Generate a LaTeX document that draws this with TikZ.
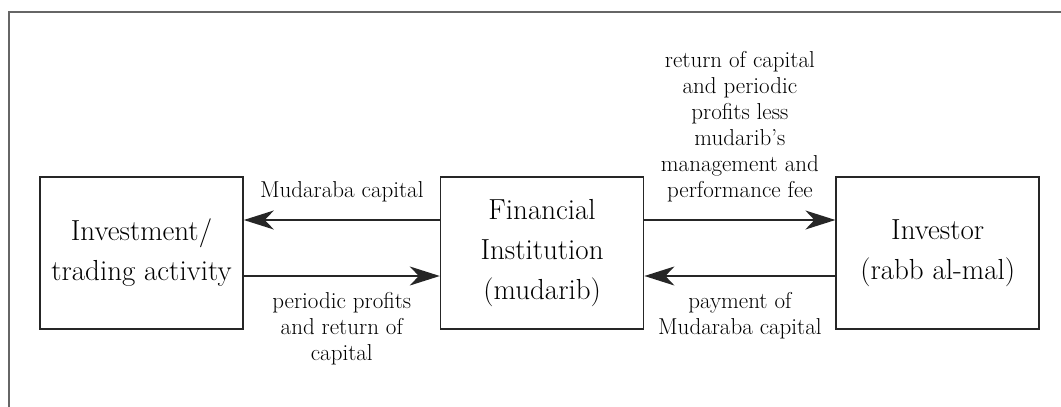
\documentclass[tikz,border=0pt]{standalone}
\usetikzlibrary{positioning,arrows.meta}

\tikzstyle{block}=[draw=black!85, line width=1.6pt, minimum width=203pt, minimum height=152pt, inner sep=0pt, align=center, font=\fontsize{29}{40}\selectfont]
\tikzstyle{flow}=[draw=black!85, line width=1.6pt, -{Stealth[length=30pt,width=19pt,inset=9pt]}]
\tikzstyle{note}=[align=center, inner sep=2pt, font=\fontsize{23}{26}\selectfont]
\newcommand{\flow}[5]{\draw[flow] ([yshift=#3]#1) -- node[note,#4] {#5} ([yshift=#3]#2);}

\begin{document}
\begin{tikzpicture}[x=1pt,y=-1pt]
    \useasboundingbox (0,0) rectangle (1061,407);
    % outer frame, cut off at the right and bottom
    \draw[black!60, line width=1.6pt] (9,407) -- (9,12) -- (1061,12);

    \node[block] (trade) at (141.5,253) {Investment/\\trading activity};
    \node[block, right=196pt of trade] (bank) {Financial\\Institution\\(mudarib)};
    \node[block, right=191pt of bank] (investor) {Investor\\(rabb al-mal)};

    \flow{bank.west}{trade.east}{33pt}{above=15pt}{Mudaraba capital}
    \flow{trade.east}{bank.west}{-23pt}{below=14pt}{periodic profits\\and return of\\capital}
    \flow{bank.east}{investor.west}{33pt}{above=15pt}{return of capital\\and periodic\\profits less\\mudarib's\\management and\\performance fee}
    \flow{investor.west}{bank.east}{-23pt}{below=14pt}{payment of\\Mudaraba capital}
\end{tikzpicture}
\end{document}
